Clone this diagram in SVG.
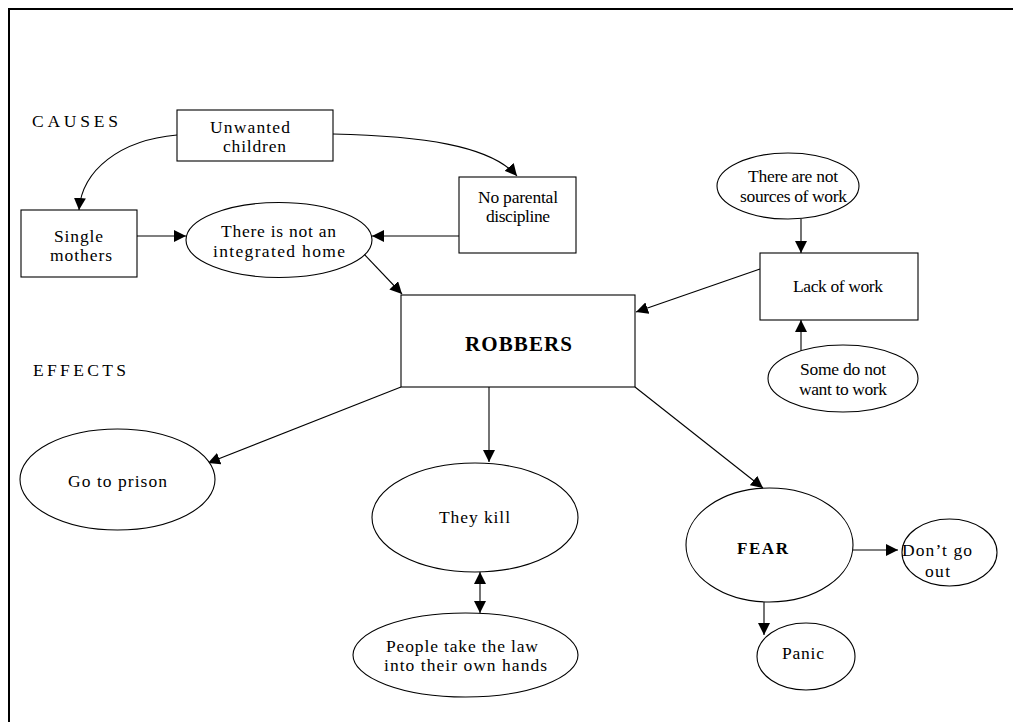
<svg xmlns="http://www.w3.org/2000/svg" width="1013" height="722" viewBox="0 0 1013 722">
<defs>
<style>
.n{fill:#fff;stroke:#000;stroke-width:1.1}
.t{font-family:"Liberation Serif","Times New Roman",serif;font-size:17.5px;fill:#000}
.b{font-weight:bold}
.c{fill:none;stroke:#000;stroke-width:1.1}
</style>
<marker id="ah" markerUnits="userSpaceOnUse" markerWidth="14" markerHeight="12" refX="12" refY="6" orient="auto">
<path d="M0,0 L12,6 L0,12 Z" fill="#000"/>
</marker>
<marker id="as" markerUnits="userSpaceOnUse" markerWidth="14" markerHeight="12" refX="0" refY="6" orient="auto">
<path d="M12,0 L0,6 L12,12 Z" fill="#000"/>
</marker>
</defs>
<rect width="1013" height="722" fill="#fff"/>
<path d="M9,722 V9 H1013" fill="none" stroke="#000" stroke-width="2"/>
<text class="t" x="32" y="127" textLength="86" lengthAdjust="spacing">CAUSES</text>
<text class="t" x="33" y="376" textLength="93" lengthAdjust="spacing">EFFECTS</text>
<g id="connectors">
<path class="c" d="M177,135 C120,140 82,170 79,210" marker-end="url(#ah)"/>
<path class="c" d="M333,134 C420,136 490,145 517,176" marker-end="url(#ah)"/>
<line class="c" x1="137" y1="236" x2="186" y2="236" marker-end="url(#ah)"/>
<line class="c" x1="459" y1="236" x2="372" y2="236" marker-end="url(#ah)"/>
<line class="c" x1="363" y1="253" x2="402" y2="294" marker-end="url(#ah)"/>
<line class="c" x1="801" y1="219" x2="801" y2="253" marker-end="url(#ah)"/>
<line class="c" x1="801" y1="352" x2="801" y2="320" marker-end="url(#ah)"/>
<line class="c" x1="760" y1="269" x2="636" y2="312" marker-end="url(#ah)"/>
<line class="c" x1="401" y1="387" x2="208" y2="463" marker-end="url(#ah)"/>
<line class="c" x1="489" y1="387" x2="489" y2="462" marker-end="url(#ah)"/>
<line class="c" x1="635" y1="387" x2="763" y2="488" marker-end="url(#ah)"/>
<line class="c" x1="480" y1="572" x2="480" y2="613" marker-start="url(#as)" marker-end="url(#ah)"/>
<line class="c" x1="853" y1="550" x2="898" y2="550" marker-end="url(#ah)"/>
<line class="c" x1="764" y1="602" x2="764" y2="635" marker-end="url(#ah)"/>
</g>
<g id="unwanted">
<rect class="n" x="177" y="110" width="156" height="51"/>
<text class="t" x="210" y="132.5" textLength="80" lengthAdjust="spacing">Unwanted</text>
<text class="t" x="223" y="152" textLength="63" lengthAdjust="spacing">children</text>
</g>
<g id="single">
<rect class="n" x="21" y="210" width="116" height="67"/>
<text class="t" x="54" y="242" textLength="49" lengthAdjust="spacing">Single</text>
<text class="t" x="50" y="261" textLength="62" lengthAdjust="spacing">mothers</text>
</g>
<g id="home">
<ellipse class="n" cx="279" cy="240" rx="93" ry="37.5"/>
<text class="t" x="221" y="237" textLength="115" lengthAdjust="spacing">There is not an</text>
<text class="t" x="213" y="257" textLength="132" lengthAdjust="spacing">integrated  home</text>
</g>
<g id="discipline">
<rect class="n" x="459" y="177" width="117" height="76"/>
<text class="t" x="478" y="203" textLength="80" lengthAdjust="spacing">No parental</text>
<text class="t" x="486" y="222" textLength="64" lengthAdjust="spacing">discipline</text>
</g>
<g id="sources">
<ellipse class="n" cx="788" cy="186" rx="71" ry="33"/>
<text class="t" x="748" y="182" textLength="90" lengthAdjust="spacing">There are not</text>
<text class="t" x="740" y="202" textLength="107" lengthAdjust="spacing">sources of work</text>
</g>
<g id="lack">
<rect class="n" x="760" y="253" width="158" height="67"/>
<text class="t" x="793" y="292" textLength="90" lengthAdjust="spacing">Lack of work</text>
</g>
<g id="some">
<ellipse class="n" cx="843" cy="378.5" rx="75" ry="33.5"/>
<text class="t" x="800" y="375" textLength="86" lengthAdjust="spacing">Some do not</text>
<text class="t" x="799" y="395" textLength="88" lengthAdjust="spacing">want to work</text>
</g>
<g id="robbers">
<rect class="n" x="401" y="295" width="234" height="92"/>
<text class="t b" x="465" y="351" style="font-size:21px" textLength="107" lengthAdjust="spacing">ROBBERS</text>
</g>
<g id="prison">
<ellipse class="n" cx="117.5" cy="479.5" rx="97.5" ry="50.5"/>
<text class="t" x="68" y="487" textLength="99" lengthAdjust="spacing">Go to prison</text>
</g>
<g id="kill">
<ellipse class="n" cx="475" cy="517.5" rx="103" ry="54.5"/>
<text class="t" x="439" y="523" textLength="71" lengthAdjust="spacing">They kill</text>
</g>
<g id="people">
<ellipse class="n" cx="465.5" cy="655" rx="112.5" ry="42"/>
<text class="t" x="386" y="652" textLength="152" lengthAdjust="spacing">People take the law</text>
<text class="t" x="384" y="671" textLength="163" lengthAdjust="spacing">into their own hands</text>
</g>
<g id="fear">
<ellipse class="n" cx="769.5" cy="545" rx="83.5" ry="57"/>
<text class="t b" x="737" y="554" style="font-size:17px" textLength="51" lengthAdjust="spacing">FEAR</text>
</g>
<g id="goout">
<ellipse class="n" cx="949.5" cy="552.5" rx="47.5" ry="33.5"/>
<text class="t" x="902" y="556" textLength="70" lengthAdjust="spacing">Don’t go</text>
<text class="t" x="925" y="577" textLength="25" lengthAdjust="spacing">out</text>
</g>
<g id="panic">
<ellipse class="n" cx="806" cy="656.5" rx="49" ry="33.5"/>
<text class="t" x="782" y="659" textLength="42" lengthAdjust="spacing">Panic</text>
</g>
</svg>
